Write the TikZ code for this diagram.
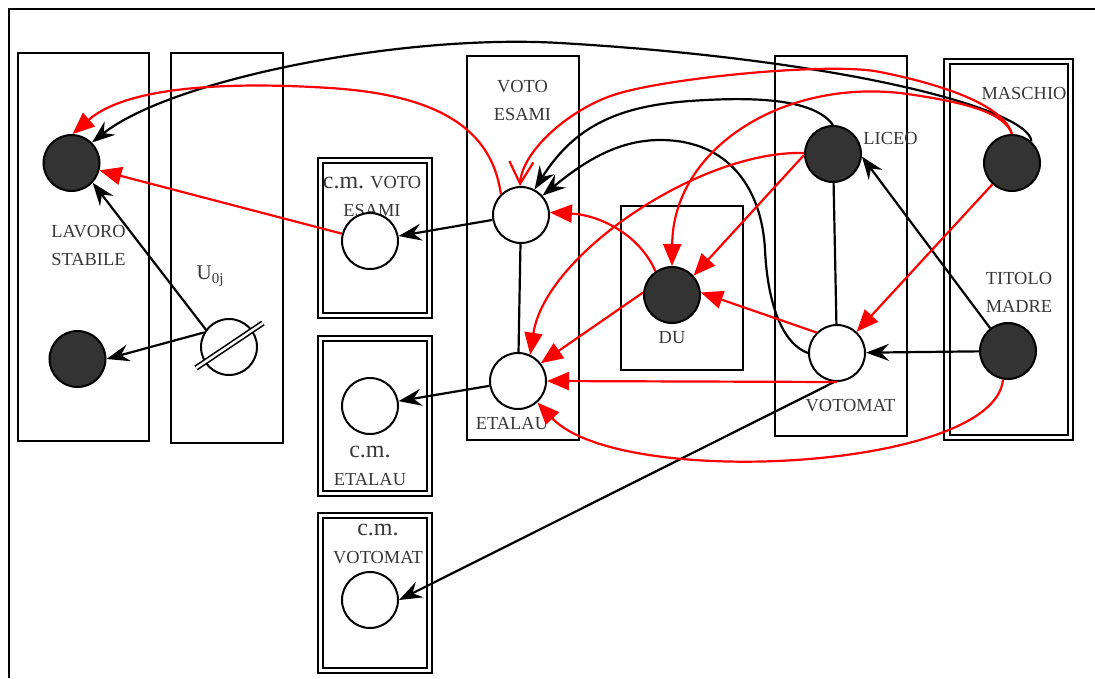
\documentclass[tikz,border=0pt]{standalone}
\usepackage{fontspec}
\setmainfont{Liberation Serif}
\usetikzlibrary{arrows.meta,calc}
\definecolor{dk}{HTML}{333333}
\definecolor{txt}{HTML}{383838}
\newcommand{\cm}{{\fontsize{24}{24}\selectfont c.m.}}
\begin{document}
\begin{tikzpicture}[x=1pt,y=-1pt,
  box/.style={draw, line width=1.5pt},
  boxin/.style={draw, line width=2pt},
  wn/.style={circle, draw, line width=2pt, fill=white, minimum size=56pt, inner sep=0pt},
  fn/.style={wn, fill=dk},
  lbl/.style={text=txt, font=\fontsize{18.4}{28}\selectfont, align=center, inner sep=0pt},
  ln/.style={draw=black, line width=2.2pt},
  blk/.style={ln, -{Stealth[length=23pt,width=17pt,inset=8pt]}},
  rd/.style={draw=red, line width=2.2pt, -{Triangle[length=22pt,width=18pt]}},
  rdo/.style={draw=red, line width=2.2pt, -{Straight Barb[length=22pt,width=24pt]}}]
\useasboundingbox (0,0) rectangle (1095,678);
\fill[white] (0,0) rectangle (1095,678);
% frame
\draw[line width=1.8pt] (1095,9) -- (9,9) -- (9,678);
% boxes
\draw[box] (18,53) rectangle (149,441);
\draw[box] (171,53) rectangle (283,443);
\draw[box] (467,56) rectangle (579,440);
\draw[box] (621,206) rectangle (743,370);
\draw[box] (775,56) rectangle (907,436);
\draw[box] (944,59) rectangle (1073,440);
\draw[boxin] (950,64) rectangle (1068,435);
\draw[box] (318,158) rectangle (432,318);
\draw[boxin] (323,163) rectangle (427,313);
\draw[box] (318,336) rectangle (432,496);
\draw[boxin] (323,341) rectangle (427,491);
\draw[box] (318,513) rectangle (432,673);
\draw[boxin] (323,518) rectangle (427,668);
% labels
\node[lbl] (tlav) at (88.5,245) {LAVORO\\STABILE};
\node[lbl] (tu) at (210,276) {\fontsize{21}{21}\selectfont U\raisebox{-4pt}{\fontsize{15}{15}\selectfont 0j}};
\node[lbl] (tve) at (522.5,100) {VOTO\\ESAMI};
\node[lbl] (tcmve) at (372,196) {\cm{} VOTO\\ESAMI};
\node[lbl] (tcmeta) at (370,465.5) {\cm\\ETALAU};
\node[lbl] (tcmvm) at (378,544) {\cm\\VOTOMAT};
\node[lbl] (teta) at (512,424) {ETALAU};
\node[lbl] (tdu) at (672,338) {DU};
\node[lbl] (tlic) at (890.5,138) {LICEO};
\node[lbl] (tvm) at (850.5,406) {VOTOMAT};
\node[lbl] (tmasc) at (1024,93) {MASCHIO};
\node[lbl] (ttit) at (1019,292) {TITOLO\\MADRE};
% nodes
\node[fn] (lav) at (71.5,163) {};
\node[fn] (lav2) at (77.5,359) {};
\node[wn] (u) at (229,347) {};
\node[wn] (ve) at (521,215) {};
\node[wn] (eta) at (518,381) {};
\node[wn] (cmve) at (370,241) {};
\node[wn] (cmeta) at (370,406) {};
\node[wn] (cmvm) at (370,600) {};
\node[fn] (du) at (672,295) {};
\node[fn] (lic) at (833,154) {};
\node[wn] (vm) at (837,353) {};
\node[fn] (masc) at (1012,163) {};
\node[fn] (tit) at (1008,351) {};
\draw[line width=1.6pt, double, double distance=2.5pt] ($(u)+(-33,21)$) -- ($(u)+(34,-24)$);
% black edges
\draw[blk] (u.143) -- (lav.-43);
\draw[blk] (u.150) -- (lav2.east);
\draw[blk] (ve) -- (cmve);
\draw[ln] (ve) -- (eta);
\draw[blk] (eta) -- (cmeta);
\draw[blk] (vm.265) -- (cmvm.east);
\draw[ln] (lic) -- (vm);
\draw[blk] (tit) -- (vm);
\draw[blk] (tit.128) -- (lic.-5);
\draw[blk] (masc.48) .. controls (1030,110) and (850,60) .. (560,43) .. controls (400,33.6) and (170,80) .. (lav.45);
\draw[blk] (lic.90) .. controls (815,100) and (760,96) .. (690,101) .. controls (620,106) and (575,125) .. (ve.62);
\draw[blk] (vm.west) .. controls (785,345) and (768,310) .. (765,250) .. controls (762,190) and (730,140) .. (660,140) .. controls (615,140) and (580,165) .. (ve.42);
% red edges
\draw[rd] (ve.134) .. controls (492,130) and (440,95) .. (330,88) .. controls (220,81) and (125,88) .. (lav.88);
\draw[rd] (cmve) -- (lav);
\draw[rdo] (masc.90) .. controls (1005,110) and (960,88) .. (880,72) .. controls (832,62) and (676,77) .. (620,93) .. controls (573,106) and (522,150) .. (ve.92);
\draw[rd] (masc.90) .. controls (1005,115) and (975,103) .. (900,93) .. controls (780,80) and (673,150) .. (du.90);
\draw[rd] (masc) -- (vm);
\draw[rd] (lic.182) -- (du.42);
\draw[rd] (lic.178) .. controls (700,150) and (545,255) .. (eta.65);
\draw[rd] (du.175) -- (eta.38);
\draw[rd] (du.125) .. controls (640,235) and (600,215) .. (ve.5);
\draw[rd] (vm.135) -- (du.5);
\draw[rd] (vm.270) -- (eta.east);
\draw[rd] (tit.260) .. controls (995,470) and (620,490) .. (eta.-48);
\end{tikzpicture}
\end{document}
